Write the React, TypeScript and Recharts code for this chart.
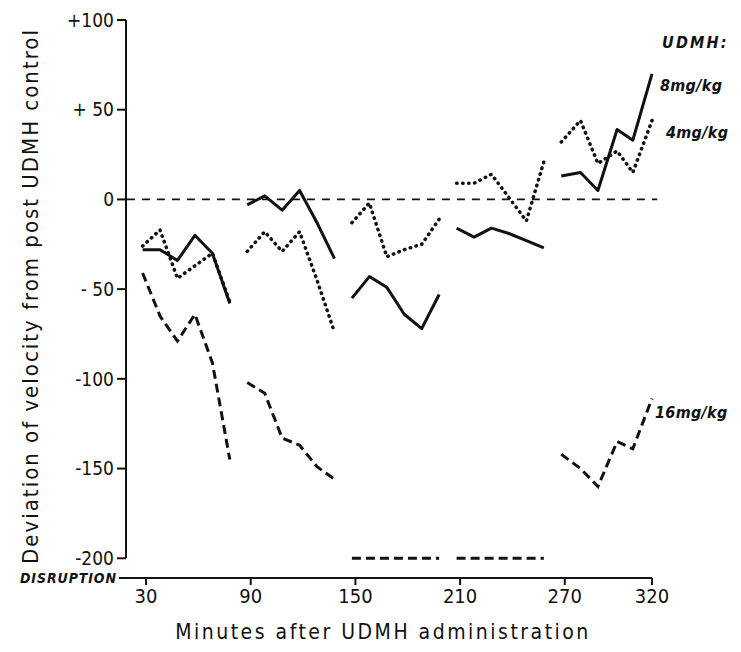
import React from 'react';
import { LineChart, Line, XAxis, YAxis, ReferenceLine } from 'recharts';

// minutes after dosing, five sampling blocks of six readings
const blockTimes = [
  [28, 38, 48, 58, 68, 78],
  [88, 98, 108, 118, 128, 138],
  [148, 158, 168, 178, 188, 198],
  [208, 218, 228, 238, 248, 258],
  [268, 279, 289, 300, 309, 320],
];

// deviation of velocity, one list per block
const dose8 = [
  [-28, -28, -34, -20, -30, -58],
  [-3, 2, -6, 5, -13, -33],
  [-55, -43, -49, -64, -72, -53],
  [-16, -21, -16, -19, -23, -27],
  [13, 15, 5, 39, 33, 70],
];
const dose4 = [
  [-26, -17, -44, -37, -30, -57],
  [-29, -18, -29, -18, -45, -74],
  [-13, -2, -32, -28, -25, -11],
  [9, 9, 14, 1, -12, 21],
  [32, 44, 20, 27, 15, 44],
];
// -200 = disruption
const dose16 = [
  [-41, -65, -79, -64, -91, -145],
  [-102, -108, -133, -137, -149, -156],
  [-200, -200, -200, -200, -200, -200],
  [-200, -200, -200, -200, -200, -200],
  [-142, -150, -160, -135, -139, -111],
];

const xTicks = [30, 90, 150, 210, 270, 320];
const yTicks = [100, 50, 0, -50, -100, -150, -200];
const yTickLabels = ['+100', '+ 50', '0', '- 50', '-100', '-150', '-200'];

const FONT = "'DejaVu Sans Condensed', 'DejaVu Sans', sans-serif";
const INK = '#111';

// one table, with an empty row between blocks so the lines break
const rows: any[] = [];
blockTimes.forEach((times, b) => {
  times.forEach((t, i) => {
    rows.push({ t, d8: dose8[b][i], d4: dose4[b][i], d16: dose16[b][i] });
  });
  if (b < blockTimes.length - 1) {
    rows.push({ t: times[times.length - 1] + 5, d8: null, d4: null, d16: null });
  }
});

const note = (left: number, top: number, size: number, text: string, extra: any = {}) => (
  <div
    style={{
      position: 'absolute',
      left,
      top,
      fontFamily: FONT,
      fontSize: size,
      fontStyle: 'italic',
      fontWeight: 'bold',
      color: INK,
      whiteSpace: 'nowrap',
      lineHeight: 1,
      ...extra,
    }}
  >
    {text}
  </div>
);

const App = () => {
  return (
    <div style={{ position: 'relative', width: 733, height: 644, background: '#fff' }}>
      <LineChart width={733} height={644} data={rows} margin={{ top: 12, right: 89, bottom: 0, left: 0 }}>
        <XAxis
          dataKey="t"
          type="number"
          domain={[18.5, 320]}
          ticks={xTicks}
          tickSize={7}
          tickMargin={4}
          height={74}
          stroke={INK}
          strokeWidth={2}
          tick={{ fill: INK, fontSize: 20, fontFamily: FONT }}
        />
        <YAxis
          type="number"
          domain={[-211, 100]}
          ticks={yTicks}
          width={118}
          axisLine={false}
          tickSize={9}
          tickMargin={3}
          stroke={INK}
          tickLine={{ stroke: INK, strokeWidth: 2 }}
          tickFormatter={(v) => yTickLabels[yTicks.indexOf(v)]}
          tick={{ fill: INK, fontSize: 19, fontFamily: FONT }}
        />
        <ReferenceLine
          segment={[{ x: 18.5, y: 100 }, { x: 18.5, y: -200 }]}
          stroke={INK}
          strokeWidth={2}
          ifOverflow="visible"
        />
        <ReferenceLine
          segment={[{ x: 19, y: 0 }, { x: 323, y: 0 }]}
          stroke={INK}
          strokeWidth={1.6}
          strokeDasharray="8 7"
          ifOverflow="visible"
        />
        <Line
          dataKey="d8"
          type="linear"
          stroke={INK}
          strokeWidth={3}
          strokeLinejoin="round"
          dot={false}
          connectNulls={false}
          isAnimationActive={false}
        />
        <Line
          dataKey="d4"
          type="linear"
          stroke={INK}
          strokeWidth={3.5}
          strokeLinecap="round"
          strokeDasharray="0.5 5.5"
          dot={false}
          connectNulls={false}
          isAnimationActive={false}
        />
        <Line
          dataKey="d16"
          type="linear"
          stroke={INK}
          strokeWidth={3}
          strokeDasharray="9 5"
          dot={false}
          connectNulls={false}
          isAnimationActive={false}
        />
      </LineChart>

      {/* axis titles */}
      <div
        style={{
          position: 'absolute',
          left: 22,
          top: 288,
          transform: 'translate(-50%, -50%) rotate(-90deg)',
          fontFamily: FONT,
          fontSize: 22,
          letterSpacing: 2,
          color: INK,
          whiteSpace: 'nowrap',
        }}
      >
        Deviation of velocity from post UDMH control
      </div>
      <div
        style={{
          position: 'absolute',
          left: 375,
          top: 624,
          transform: 'translate(-50%, -50%)',
          fontFamily: FONT,
          fontSize: 21,
          letterSpacing: 2.5,
          color: INK,
          whiteSpace: 'nowrap',
        }}
      >
        Minutes after UDMH administration
      </div>

      {/* dose labels */}
      {note(654, 27, 16, 'UDMH:', { letterSpacing: 2.2 })}
      {note(652, 70, 16, '8mg/kg', { letterSpacing: 0.3 })}
      {note(658, 117, 16, '4mg/kg', { letterSpacing: 0.3 })}
      {note(647, 397, 16, '16mg/kg', { letterSpacing: 0.3 })}
      {note(12, 563, 14, 'DISRUPTION', { letterSpacing: 0.9 })}
      <div style={{ position: 'absolute', left: 111, top: 569, width: 8, height: 2, background: INK }} />
    </div>
  );
};

export default App;
